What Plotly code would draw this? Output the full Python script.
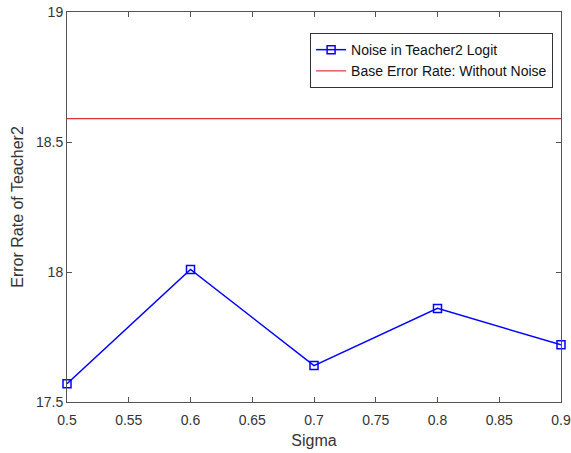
import plotly.graph_objects as go

sigma = [0.5, 0.6, 0.7, 0.8, 0.9]
noise_error = [17.57, 18.01, 17.64, 17.86, 17.72]
base_error = 18.59
x_ticks = [0.5, 0.55, 0.6, 0.65, 0.7, 0.75, 0.8, 0.85, 0.9]
y_ticks = [17.5, 18, 18.5, 19]

fig = go.Figure()
fig.add_trace(go.Scatter(
    x=sigma, y=noise_error, mode="lines+markers",
    name="Noise in Teacher2 Logit",
    line=dict(color="#0000ff", width=1.5),
    marker=dict(symbol="square-open", size=8, color="#0000ff", line=dict(width=1.5)),
    cliponaxis=False,
))
fig.add_trace(go.Scatter(
    x=[sigma[0], sigma[-1]], y=[base_error, base_error], mode="lines",
    name="Base Error Rate: Without Noise",
    line=dict(color="#e0303a", width=1.2),
))

axis_common = dict(
    showline=True, linecolor="#555555", linewidth=1, mirror="ticks",
    ticks="inside", ticklen=5, tickcolor="#555555",
    showgrid=False, zeroline=False, automargin=False,
    ticklabeloverflow="allow",
    tickfont=dict(family="Liberation Sans, Arial", size=14, color="#333333"),
)

fig.update_layout(
    width=571, height=453,
    margin=dict(l=67, r=10, t=12, b=51),
    paper_bgcolor="white", plot_bgcolor="white",
    font=dict(family="Liberation Sans, Arial", size=14, color="#333333"),
    xaxis=dict(range=[0.5, 0.9], tickvals=x_ticks,
               ticktext=[f"{v:g}" for v in x_ticks],
               ticklabelstandoff=5,
               title=dict(text="Sigma", font=dict(size=16), standoff=8),
               **axis_common),
    yaxis=dict(range=[17.5, 19], tickvals=y_ticks,
               ticktext=[f"{v:g}" for v in y_ticks],
               title=dict(text="Error Rate of Teacher2", font=dict(size=16), standoff=8),
               **axis_common),
    legend=dict(x=0.984, xanchor="right", y=0.946, yanchor="top",
                bgcolor="white", bordercolor="#333333", borderwidth=1,
                font=dict(size=14, color="#111111"),
                tracegroupgap=0, itemwidth=30),
    showlegend=True,
)

fig.write_html("out.html", config={"displayModeBar": False},
               post_script="document.body.style.margin='0';")
